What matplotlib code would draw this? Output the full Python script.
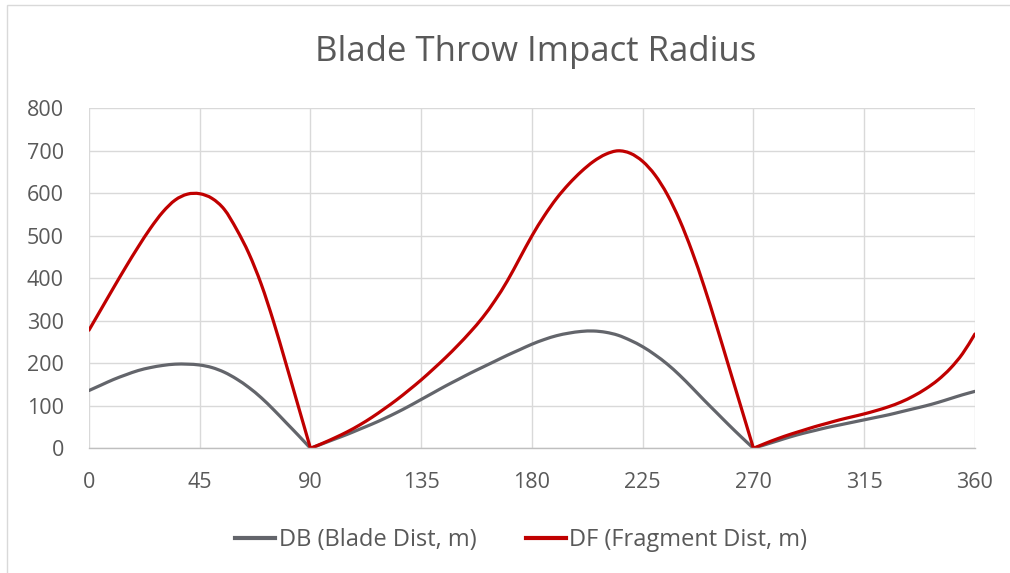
import matplotlib.pyplot as plt
from matplotlib.patches import Rectangle, PathPatch
from matplotlib.path import Path
from matplotlib.lines import Line2D

plt.rcParams['font.family'] = ['Open Sans', 'DejaVu Sans']

# angle (deg) and impact distances
angle = list(range(0, 361, 5))

db = [136, 149, 162, 173, 183, 190, 195, 198, 198, 196, 190, 179, 163, 143, 119, 91, 61, 31, 0,
      11, 22, 33, 45, 57, 70, 84, 99, 115, 131, 147, 162, 177, 191, 205, 219, 232, 245,
      256, 265, 271, 275, 276, 273, 266, 254, 239, 220, 198, 172, 143, 113, 84, 55, 27, 0,
      9, 18, 27, 35, 42, 49, 55, 61, 67, 73, 79, 86, 93, 100, 108, 117, 126, 134]

df = [278, 328, 378, 427, 474, 518, 556, 584, 598, 599, 588, 562, 515, 458, 386, 298, 200, 100, 0,
      12, 25, 39, 55, 73, 93, 114, 137, 161, 187, 214, 243, 274, 308, 348, 394, 447, 500,
      547, 588, 622, 651, 675, 692, 700, 694, 675, 643, 597, 537, 464, 380, 288, 192, 96, 0,
      12, 23, 33, 42, 51, 59, 67, 74, 81, 89, 98, 109, 123, 140, 161, 188, 223, 269]

x_ticks = list(range(0, 361, 45))
y_ticks = list(range(0, 801, 100))
labels = ['DB (Blade Dist, m)', 'DF (Fragment Dist, m)']
colors = ['#63656b', '#c00000']


def smooth_path(xs, ys):
    # excel-like smoothed line, broken at the zero cusps
    breaks = [0] + [i for i in range(1, len(ys) - 1) if ys[i] == 0] + [len(ys) - 1]
    verts, codes = [], []
    for a, b in zip(breaks[:-1], breaks[1:]):
        px, py = xs[a:b + 1], ys[a:b + 1]
        n = len(px)
        mx, my = [], []
        for i in range(n):
            lo, hi = max(i - 1, 0), min(i + 1, n - 1)
            f = 0.5 if 0 < i < n - 1 else 1.0
            mx.append((px[hi] - px[lo]) * f)
            my.append((py[hi] - py[lo]) * f)
        verts.append((px[0], py[0]))
        codes.append(Path.MOVETO)
        for i in range(n - 1):
            verts += [(px[i] + mx[i] / 3, py[i] + my[i] / 3),
                      (px[i + 1] - mx[i + 1] / 3, py[i + 1] - my[i + 1] / 3),
                      (px[i + 1], py[i + 1])]
            codes += [Path.CURVE4] * 3
    return Path(verts, codes)


fig = plt.figure(figsize=(10.1, 5.73), dpi=100)
ax = fig.add_axes([0.0881, 0.2176, 0.8772, 0.5934])

for ys, c in zip([db, df], colors):
    ax.add_patch(PathPatch(smooth_path(angle, ys), fill=False, edgecolor=c, lw=2.3,
                           capstyle='round', joinstyle='round'))

ax.set_xlim(0, 360)
ax.set_ylim(0, 800)
ax.set_xticks(x_ticks)
ax.set_yticks(y_ticks)
ax.grid(True, color='#d9d9d9', lw=1.0)
ax.set_axisbelow(True)
for s in ['top', 'right', 'left']:
    ax.spines[s].set_visible(False)
ax.spines['bottom'].set_color('#bfbfbf')
ax.spines['bottom'].set_linewidth(1.0)
ax.tick_params(length=0, labelsize=15.5, labelcolor='#595959')
ax.tick_params(axis='x', pad=17)
ax.tick_params(axis='y', pad=18)

fig.text(0.530, 0.909, 'Blade Throw Impact Radius', ha='center', va='center',
         fontsize=25, color='#595959')

handles = [Line2D([], [], color=c, lw=3) for c in colors]
fig.legend(handles, labels, loc='center', bbox_to_anchor=(0.516, 0.058), ncol=2, frameon=False,
           fontsize=17, labelcolor='#595959', handlelength=1.7, handletextpad=0.15,
           columnspacing=2.1)

fig.patches.append(Rectangle((7 / 1010, -0.1), 1.2, 1 - 5 / 573 + 0.1, transform=fig.transFigure,
                             fill=False, edgecolor='#d9d9d9', lw=1.0))

fig.savefig('out.png', dpi=100)
